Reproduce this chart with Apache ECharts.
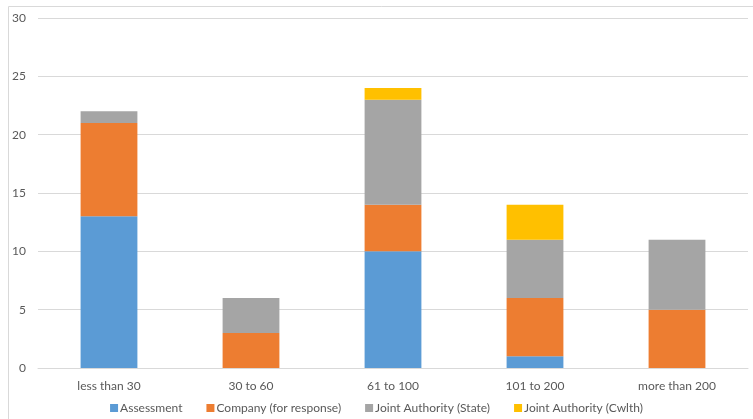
<!DOCTYPE html>
<html><head><meta charset="utf-8">
<script src="https://cdn.jsdelivr.net/npm/echarts@6/dist/echarts.min.js"></script>
<style>html,body{margin:0;padding:0;background:#fff}#c{width:753px;height:419px}</style>
</head><body><div id="c"></div>
<script>
const categories = ['less than 30','30 to 60','61 to 100','101 to 200','more than 200'];
const assessment = [13, 0, 10, 1, 0];
const company = [8, 3, 4, 5, 5];
const jointState = [1, 3, 9, 5, 6];
const jointCwlth = [0, 0, 1, 3, 0];
const seriesNames = ['Assessment','Company (for response)','Joint Authority (State)','Joint Authority (Cwlth)'];
const colors = ['#5B9BD5','#ED7D31','#A5A5A5','#FFC000'];
const chart = echarts.init(document.getElementById('c'));
const font = 'Lato, "Open Sans", sans-serif';
const mk = (name, data, i) => ({
  name, type: 'bar', stack: 'total', data, barWidth: '40%',
  itemStyle: { color: colors[i] }, emphasis: { disabled: true }
});
chart.setOption({
  animation: false,
  color: colors,
  textStyle: { fontFamily: font },
  graphic: [{ type: 'rect', shape: { x: 8.5, y: 6.5, width: 760, height: 430 },
    style: { fill: 'none', stroke: '#D9D9D9', lineWidth: 1 }, silent: true }],
  grid: { left: 38, right: 5, top: 18, bottom: 51, containLabel: false },
  legend: {
    bottom: 0, left: 'center', itemWidth: 8, itemHeight: 8, itemGap: 24, icon: 'rect',
    textStyle: { color: '#595959', fontSize: 12, fontFamily: font, padding: [0,0,0,-3] },
    data: seriesNames
  },
  xAxis: {
    type: 'category', data: categories,
    axisLine: { lineStyle: { color: '#D9D9D9' } }, axisTick: { show: false },
    axisLabel: { color: '#595959', fontSize: 12, fontFamily: font, margin: 12 }
  },
  yAxis: {
    type: 'value', min: 0, max: 30, interval: 5,
    axisLine: { show: false }, axisTick: { show: false },
    splitLine: { lineStyle: { color: '#D9D9D9' } },
    axisLabel: { color: '#595959', fontSize: 12, fontFamily: font, margin: 12 }
  },
  series: [
    mk(seriesNames[0], assessment, 0),
    mk(seriesNames[1], company, 1),
    mk(seriesNames[2], jointState, 2),
    mk(seriesNames[3], jointCwlth, 3)
  ]
});
</script></body></html>
